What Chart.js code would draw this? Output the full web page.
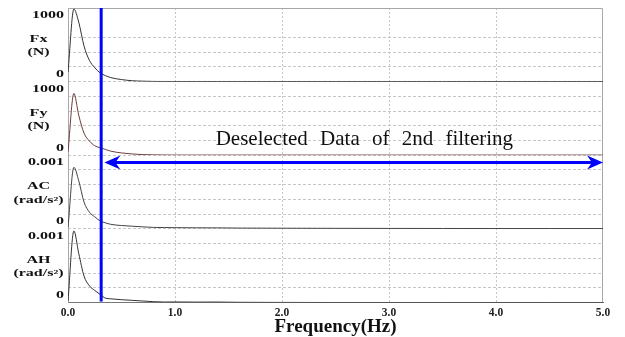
<!DOCTYPE html>
<html><head><meta charset="utf-8">
<style>html,body{margin:0;padding:0;background:#fff;}</style>
<script src="https://cdn.jsdelivr.net/npm/chart.js@4.4.1/dist/chart.umd.min.js"></script>
</head><body>
<canvas id="c" width="625" height="337"></canvas>
<script>
// ---- data ----
const freqs    = [0, 0.055, 0.1, 0.15, 0.2, 0.25, 0.3, 0.35, 0.4, 0.5, 0.6, 0.7, 0.8, 0.9, 1.0, 1.2, 1.4, 1.6, 2.0, 2.5, 3.0, 3.5, 4.0, 4.5, 5.0];
const fxValues = [142, 1085, 890, 530, 318, 208, 131, 90, 60, 31, 13, 7, 3, 2, 2, 2, 2, 2, 2, 2, 2, 2, 2, 2, 2];
const fyValues = [50, 924, 600, 330, 212, 142, 112, 87, 61, 35, 19, 10, 6, 4, 3, 3, 3, 3, 3, 3, 3, 3, 3, 3, 3];
const acValues = [0.00002, 0.00092, 0.00072, 0.0004, 0.00025, 0.00018, 0.00012, 0.00009, 0.000068, 0.00005, 0.00004, 0.00003, 0.000022, 0.00002, 0.000018, 0.000016, 0.000015, 0.000012, 0.00001, 0.000008, 0.000007, 0.000006, 0.000005, 0.000005, 0.000005];
const ahValues = [0.00002, 0.00107, 0.000736, 0.000394, 0.00025, 0.00018, 0.00012, 0.000065, 0.000055, 0.000042, 0.000032, 0.000022, 0.000012, 0.000007, 0.000008, 0.000006, 0.000007, 0.000003, 0.000001, 0, 0, 0, 0, 0, 0];

const xTickValues = [0, 1, 2, 3, 4, 5];
const xTickLabels = ['0.0', '1.0', '2.0', '3.0', '4.0', '5.0'];

const panelNames      = ['Fx', 'Fy', 'AC', 'AH'];
const panelUnits      = ['(N)', '(N)', '(rad/s\u00B2)', '(rad/s\u00B2)'];
const panelTopLabels  = ['1000', '1000', '0.001', '0.001'];
const panelZeroLabels = ['0', '0', '0', '0'];
const panelMax        = [1100, 1100, 0.0011, 0.0011];

const cutoffHz = 0.31;            // blue vertical line
const arrowFromHz = 0.34, arrowToHz = 5.0, arrowAC = 0.00099;
const noteText = 'Deselected Data of 2nd filtering';
const noteHz = 2.77, noteFy = 150;

// ---- chart ----
const seriesVals = [fxValues, fyValues, acValues, ahValues];
const seriesColors = ['#333333', '#6e3e3c', '#444444', '#333333'];
const axisIds = ['yFx', 'yFy', 'yAC', 'yAH'];

function yAxis(i) {
  return {
    type: 'linear', position: 'left', stack: 'panels', stackWeight: 1,
    min: 0, max: panelMax[i],
    afterBuildTicks: s => { s.ticks = [0, 1, 2, 3, 4, 5].map(k => ({ value: panelMax[i] * k / 5 })); },
    ticks: { display: false },
    grid: { drawTicks: false, lineWidth: 1,
      color: c => (i === 0 && c.index === 4) ? 'rgba(0,0,0,0)' : '#c6c6c6' },
    border: { display: false, dash: [3, 2] }
  };
}

const scales = {
  x: {
    type: 'linear', min: 0, max: 5,
    afterBuildTicks: s => { s.ticks = xTickValues.map(v => ({ value: v })); },
    ticks: { callback: (v, i) => xTickLabels[i], autoSkip: false, maxRotation: 0, padding: 5, color: '#222',
      font: { family: '"Liberation Serif"', size: 11.5, weight: 'bold', lineHeight: 1 } },
    grid: { drawTicks: false, color: c => (c.index === 0 || c.index === 5) ? 'rgba(0,0,0,0)' : '#c6c6c6' },
    border: { display: true, color: '#777', width: 1, dash: [2, 2] },
    title: { display: true, text: 'Frequency(Hz)', color: '#111', padding: { top: -6, bottom: 0 },
      font: { family: '"Liberation Serif"', size: 19, weight: 'bold', lineHeight: 1 } }
  }
};
// later-defined stacked axes are placed higher
for (let i = 3; i >= 0; i--) scales[axisIds[i]] = yAxis(i);

const overlay = {
  id: 'overlay',
  beforeDatasetsDraw(chart) {
    const { ctx, chartArea: a } = chart;
    ctx.save();
    ctx.strokeStyle = '#a8a8a8'; ctx.lineWidth = 1;
    ctx.beginPath();
    ctx.moveTo(a.left + 0.5, a.bottom); ctx.lineTo(a.left + 0.5, a.top + 0.5);
    ctx.lineTo(a.right - 0.5, a.top + 0.5); ctx.lineTo(a.right - 0.5, a.bottom);
    ctx.stroke();
    ctx.restore();
  },
  afterDatasetsDraw(chart) {
    const { ctx, chartArea: a, scales: s } = chart;
    ctx.save();
    // cutoff line
    const xc = s.x.getPixelForValue(cutoffHz);
    ctx.fillStyle = '#0000ff';
    ctx.fillRect(xc - 1.5, a.top, 3, a.bottom - a.top - 1);
    // double arrow
    const ya = s.yAC.getPixelForValue(arrowAC);
    const x1 = s.x.getPixelForValue(arrowFromHz), x2 = s.x.getPixelForValue(arrowToHz);
    ctx.strokeStyle = '#0000ff'; ctx.lineWidth = 3;
    ctx.beginPath(); ctx.moveTo(x1 + 10, ya); ctx.lineTo(x2 - 10, ya); ctx.stroke();
    ctx.beginPath(); ctx.moveTo(x1, ya); ctx.lineTo(x1 + 16, ya - 7); ctx.lineTo(x1 + 11, ya); ctx.lineTo(x1 + 16, ya + 7); ctx.closePath(); ctx.fill();
    ctx.beginPath(); ctx.moveTo(x2, ya); ctx.lineTo(x2 - 16, ya - 7); ctx.lineTo(x2 - 11, ya); ctx.lineTo(x2 - 16, ya + 7); ctx.closePath(); ctx.fill();
    // note text
    ctx.fillStyle = '#111';
    ctx.font = '21px "Liberation Serif"';
    ctx.textAlign = 'center'; ctx.textBaseline = 'alphabetic';
    try { ctx.wordSpacing = '7px'; } catch (e) {}
    ctx.fillText(noteText, s.x.getPixelForValue(noteHz), s.yFy.getPixelForValue(noteFy));
    try { ctx.wordSpacing = '0px'; } catch (e) {}
    // left panel labels (horizontally stretched, as in the source figure)
    ctx.font = 'bold 9.6px "Liberation Serif"';
    ctx.textBaseline = 'middle';
    ctx.fillStyle = '#111';
    const st = (t, x, y, al) => { ctx.save(); ctx.translate(x, y); ctx.scale(1.67, 1); ctx.textAlign = al; ctx.fillText(t, 0, 0); ctx.restore(); };
    for (let i = 0; i < 4; i++) {
      const sc = s[axisIds[i]];
      const top = sc.top;
      st(panelTopLabels[i], 64, top + 7.5, 'right');
      st(panelNames[i], 38.5, top + 31.5, 'center');
      st(panelUnits[i], 38.5, top + 45, 'center');
      st(panelZeroLabels[i], 64, top + 66.5, 'right');
    }
    ctx.restore();
  }
};

new Chart(document.getElementById('c'), {
  type: 'line',
  data: {
    datasets: seriesVals.map((vals, i) => ({
      label: panelNames[i],
      yAxisID: axisIds[i],
      data: freqs.map((f, k) => ({ x: f, y: vals[k] })),
      borderColor: seriesColors[i], borderWidth: 1, pointRadius: 0,
      cubicInterpolationMode: 'monotone', fill: false
    }))
  },
  options: {
    responsive: false, animation: false, devicePixelRatio: 1,
    layout: { padding: { left: 68, right: 22, top: 8, bottom: 0 } },
    plugins: { legend: { display: false }, tooltip: { enabled: false } },
    scales
  },
  plugins: [overlay]
});
</script>
</body></html>
